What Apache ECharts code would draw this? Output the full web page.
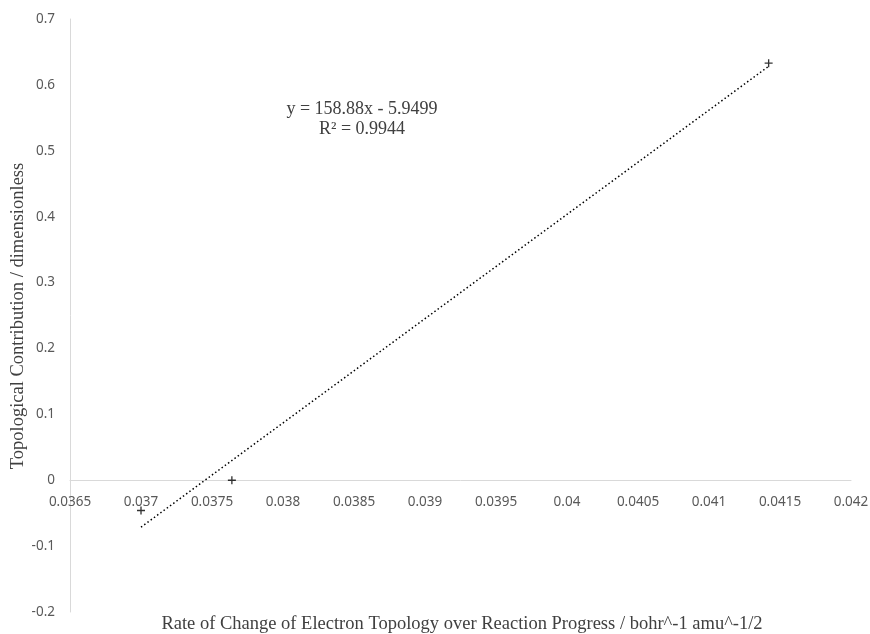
<!DOCTYPE html>
<html><head><meta charset="utf-8">
<script src="https://cdn.jsdelivr.net/npm/echarts@6/dist/echarts.min.js"></script>
<style>html,body{margin:0;padding:0;background:#fff}#c{width:870px;height:634px}</style>
</head><body><div id="c"></div>
<script>
const pointX = [0.0370, 0.03764, 0.04142];
const pointY = [-0.046, 0.0, 0.633];
const trendX = [0.0370, 0.04142];
const trendY = [-0.0713, 0.6282];
const equationText = ['y = 158.88x - 5.9499', 'R² = 0.9944'];
const xTitle = 'Rate of Change of Electron Topology over Reaction Progress / bohr^-1 amu^-1/2';
const yTitle = 'Topological Contribution / dimensionless';

const chart = echarts.init(document.getElementById('c'));
const plus = 'path://M3,0h1.2v3h3v1.2h-3v3h-1.2v-3h-3v-1.2h3z';
const serif = 'Liberation Serif';
chart.setOption({
  animation: false,
  grid: {left: 70, right: 19, top: 19, bottom: 22, containLabel: false, outerBoundsMode: 'none'},
  xAxis: {
    type: 'value', min: 0.0365, max: 0.042, interval: 0.0005,
    axisLine: {onZero: true, lineStyle: {color: '#d9d9d9', width: 1}},
    axisTick: {show: false}, splitLine: {show: false},
    axisLabel: {color: '#595959', fontFamily: 'Noto Sans', fontSize: 13.5, margin: -117,
      formatter: v => String(+v.toFixed(5))}
  },
  yAxis: {
    type: 'value', min: -0.2, max: 0.7, interval: 0.1,
    axisLine: {show: true, onZero: false, lineStyle: {color: '#d9d9d9', width: 1}},
    axisTick: {show: false}, splitLine: {show: false},
    axisLabel: {color: '#595959', fontFamily: 'Noto Sans', fontSize: 13.5, margin: 15,
      formatter: v => String(+v.toFixed(1))}
  },
  series: [
    {type: 'line', data: trendX.map((x, i) => [x, trendY[i]]), symbol: 'none',
     lineStyle: {color: '#000', width: 1.5, type: [1.5, 2.5]}, silent: true},
    {type: 'scatter', data: pointX.map((x, i) => [x, pointY[i]]), symbol: plus, symbolSize: 8,
     itemStyle: {color: '#000'}}
  ],
  graphic: [
    {type: 'text', x: 362, y: 109, style: {text: equationText[0], fill: '#404040', fontFamily: serif, fontSize: 18, align: 'center', verticalAlign: 'middle'}},
    {type: 'text', x: 362, y: 129, style: {text: equationText[1], fill: '#404040', fontFamily: serif, fontSize: 18, align: 'center', verticalAlign: 'middle'}},
    {type: 'text', x: 462, y: 624, style: {text: xTitle, fill: '#404040', fontFamily: serif, fontSize: 18.5, align: 'center', verticalAlign: 'middle'}},
    {type: 'text', x: 18, y: 316, rotation: Math.PI / 2, style: {text: yTitle, fill: '#404040', fontFamily: serif, fontSize: 18.5, align: 'center', verticalAlign: 'middle'}}
  ]
});
</script></body></html>
